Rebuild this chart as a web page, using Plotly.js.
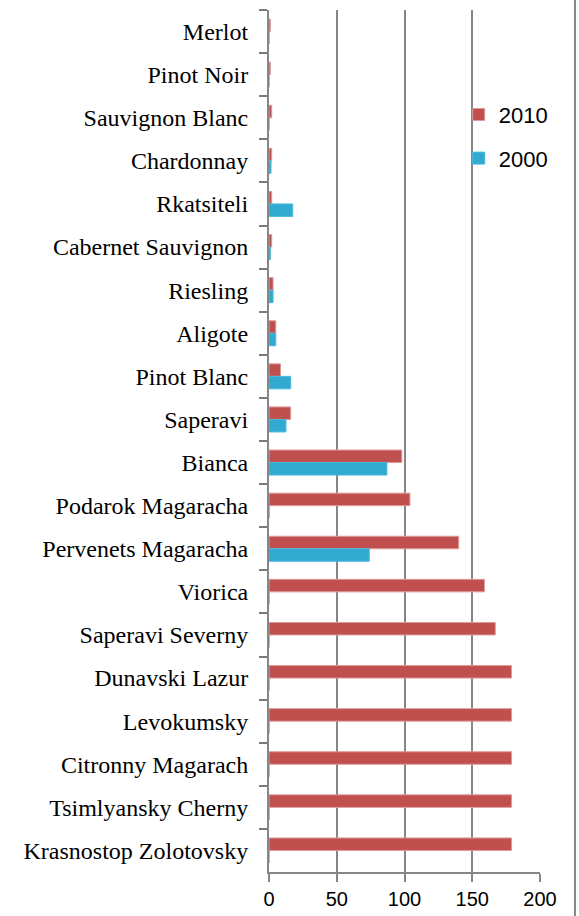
<!DOCTYPE html>
<html>
<head>
<meta charset="utf-8">
<script src="https://cdn.plot.ly/plotly-3.0.1.min.js"></script>
<style>html,body{margin:0;padding:0;background:#fff;}#chart{width:579px;height:916px;}</style>
</head>
<body>
<div id="chart"></div>
<script>
var categories = ["Merlot","Pinot Noir","Sauvignon Blanc","Chardonnay","Rkatsiteli","Cabernet Sauvignon","Riesling","Aligote","Pinot Blanc","Saperavi","Bianca","Podarok Magaracha","Pervenets Magaracha","Viorica","Saperavi Severny","Dunavski Lazur","Levokumsky","Citronny Magarach","Tsimlyansky Cherny","Krasnostop Zolotovsky"];
var values2010 = [1,1,2,2,2,2,3,5,8.5,16,98,104,140,159,167,179,179,179,179,179];
var values2000 = [0,0,0,1.5,17.5,1,3,5,16,12.5,87,0,74,0,0,0,0,0,0,0];
var xTicks = [0,50,100,150,200];

var traces = [
  {type:'bar', orientation:'h', name:'2010', y:categories, x:values2010, legendgroup:'a',
   marker:{color:'#c0504d', line:{color:'#dd9a99', width:1}}},
  {type:'bar', orientation:'h', name:'2000', y:categories, x:values2000, legendgroup:'b',
   marker:{color:'#31a9d0', line:{color:'#48b9de', width:1}}}
];

var layout = {
  width:579, height:916,
  margin:{l:269, r:39, t:10, b:44, pad:0},
  paper_bgcolor:'#fff', plot_bgcolor:'#fff',
  barmode:'group', bargap:0.42, bargroupgap:0,
  showlegend:true,
  legend:{x:0.70, y:0.853, xanchor:'left', yanchor:'middle', bgcolor:'rgba(0,0,0,0)',
          font:{family:'Liberation Sans, Arial, sans-serif', size:22, color:'#000'},
          tracegroupgap:12, itemwidth:30},
  xaxis:{range:[0,200], tickvals:xTicks, ticktext:xTicks.map(String), showgrid:true, gridcolor:'#868686', gridwidth:2,
         zeroline:false, showline:true, linecolor:'#868686', linewidth:2, ticks:'outside', ticklen:8, tickwidth:2, tickcolor:'#868686',
         tickfont:{family:'Liberation Sans, Arial, sans-serif', size:20, color:'#000'}, fixedrange:true},
  yaxis:{type:'category', autorange:'reversed', tickson:'boundaries', showgrid:false, showline:true, linecolor:'#868686', linewidth:2,
         ticks:'outside', ticklen:8, tickwidth:2, tickcolor:'#7a7a7a', ticklabelstandoff:14,
         tickfont:{family:'Liberation Serif, Times New Roman, serif', size:24, color:'#000'}, fixedrange:true},
  shapes:[{type:'line', xref:'paper', yref:'paper', x0:1.129, x1:1.129, y0:-0.06, y1:1.02, line:{color:'#868686', width:2}}]
};

Plotly.newPlot('chart', traces, layout, {staticPlot:true});
</script>
</body>
</html>
